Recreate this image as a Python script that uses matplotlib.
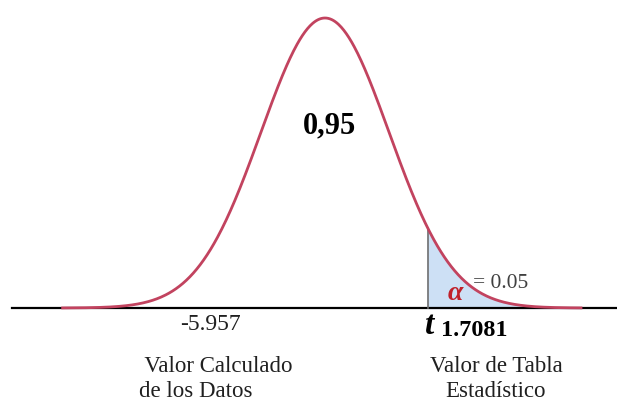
import numpy as np
import matplotlib.pyplot as plt

# curve in z units
z_min, z_max = -4.1, 4.0
t_crit = 1.605          # where the shaded tail starts (drawn position)
center_label = "0,95"
alpha_label = "= 0.05"
calc_value = "-5.957"
table_value = "1.7081"
calc_caption = " Valor Calculado\nde los Datos"
table_caption = "Valor de Tabla\nEstadístico"

curve_color = "#c2435f"
fill_color = "#cde0f5"

x = np.linspace(z_min, z_max, 600)
y = np.exp(-x ** 2 / 2)

fig = plt.figure(figsize=(6.17, 4.01), dpi=100)
ax = fig.add_axes([0, 0, 1, 1])
# pixel mapping: x px = 325 + 64*z, baseline px 308, peak px 18
ax.set_xlim(-325 / 64, (617 - 325) / 64)
ax.set_ylim(-93 / 290, 308 / 290)
ax.axis("off")

# baseline
ax.plot([(12 - 325) / 64, (617 - 325) / 64], [0, 0], color="black", lw=1.6, zorder=2)

# shaded tail
mask = x >= t_crit
ax.fill_between(x[mask], 0, y[mask], color=fill_color, zorder=1)
ax.plot([t_crit, t_crit], [0, np.exp(-t_crit ** 2 / 2)], color="#707070", lw=1.2, zorder=2)

ax.plot(x, y, color=curve_color, lw=2.0, zorder=3)

serif = "Liberation Serif"
ax.text((330 - 325) / 64, (308 - 126) / 290, center_label, family=serif, fontweight="bold",
        fontsize=22, ha="center", va="center")
ax.text((455 - 325) / 64, (308 - 293) / 290, "α", family=serif, color="#c0202a", fontsize=20,
        fontweight="bold", fontstyle="italic", ha="center", va="center")
ax.text((473 - 325) / 64, (308 - 284) / 290, alpha_label, family=serif, color="#404040",
        fontsize=15.5, ha="left", va="center")

ax.text((210 - 325) / 64, (308 - 325) / 290, calc_value, family=serif, color="#202020",
        fontsize=17, ha="center", va="center")
ax.text((430 - 325) / 64, (308 - 326) / 290, "t", family=serif, fontweight="bold",
        fontstyle="italic", fontsize=24, ha="center", va="center")
ax.text((474 - 325) / 64, (308 - 330) / 290, table_value, family=serif, fontweight="bold",
        fontsize=17.5, ha="center", va="center")

ax.text((139 - 325) / 64, (308 - 379) / 290, calc_caption, family=serif, color="#202020",
        fontsize=16.5, ha="left", va="center", linespacing=1.2)
ax.text((496 - 325) / 64, (308 - 379) / 290, table_caption, family=serif, color="#202020",
        fontsize=16.5, ha="center", va="center", linespacing=1.2)

fig.savefig("out.png", dpi=100)
